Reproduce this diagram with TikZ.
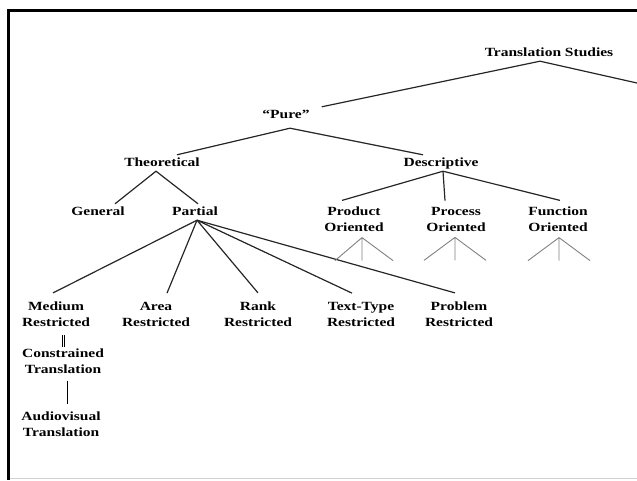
\documentclass[tikz,border=0pt]{standalone}
\usepackage{fontspec}
\setmainfont{Liberation Serif}[FakeStretch=1.24]
\tikzset{
  cat/.style={font=\bfseries\fontsize{12.5}{16}\selectfont, inner xsep=0pt, inner ysep=2.5pt, text height=9pt, text depth=2pt},
  cat2/.style={font=\bfseries\fontsize{12.5}{16}\selectfont, align=center, inner xsep=0pt, inner ysep=7pt},
  br/.style={line width=1.2pt, black!85},
  sub/.style={line width=0.9pt, black!50},
}
\begin{document}
\begin{tikzpicture}[x=1pt,y=-1pt]
\useasboundingbox (0,0) rectangle (637,480);
\draw[gray!35, line width=0.6pt] (8,478.5) -- (637,478.5);
\draw[line width=3pt] (637,10) -- (8.5,10) -- (8.5,480);

\node[cat] (ts) at (549,53) {Translation Studies};
\node[cat] (pure) at (286,115) {“Pure”};
\node[cat] (theo) at (162,163) {Theoretical};
\node[cat] (desc) at (441,163) {Descriptive};
\node[cat] (gen) at (98,212) {General};
\node[cat] (part) at (195,212) {Partial};

\node[cat2, inner ysep=6pt] (prod) at (354,219) {Product\\Oriented};
\node[cat2, inner ysep=6pt] (proc) at (456,219) {Process\\Oriented};
\node[cat2, inner ysep=6pt] (func) at (558,219) {Function\\Oriented};

\node[cat2, inner ysep=8.5pt] (med) at (56,314) {Medium\\Restricted};
\node[cat2, inner ysep=8.5pt] (area) at (156,314) {Area\\Restricted};
\node[cat2, inner ysep=8.5pt] (rank) at (258,314) {Rank\\Restricted};
\node[cat2, inner ysep=8.5pt] (ttype) at (361,314) {Text-Type\\Restricted};
\node[cat2, inner ysep=8.5pt] (prob) at (459,314) {Problem\\Restricted};

\node[cat2] (constr) at (63,361) {Constrained\\Translation};
\node[cat2] (audio) at (61,424) {Audiovisual\\Translation};

\coordinate (tsr) at (637,83);

\draw[br] ([xshift=12pt]pure.north east) -- ([xshift=-9pt]ts.south) -- (tsr);
\draw[br] ([xshift=15pt]theo.north) -- ([xshift=4pt,yshift=-5pt]pure.south) -- ([xshift=-18pt]desc.north);
\draw[br] ([xshift=17pt]gen.north) -- ([xshift=-6pt]theo.south) -- ([xshift=3pt]part.north);

\draw[br] ([xshift=2pt]part.south) -- ([xshift=-3pt]med.north);
\draw[br] ([xshift=2pt]part.south) -- ([xshift=11pt]area.north);
\draw[br] ([xshift=2pt]part.south) -- (rank.north);
\draw[br] ([xshift=2pt]part.south) -- ([xshift=-9pt]ttype.north);
\draw[br] ([xshift=2pt]part.south) -- ([xshift=-4pt]prob.north);

\draw[br] ([xshift=2pt]desc.south) -- ([xshift=-12pt]prod.north);
\draw[br] ([xshift=2pt]desc.south) -- ([xshift=-11pt]proc.north);
\draw[br] ([xshift=2pt]desc.south) -- ([xshift=2pt]func.north);

\draw[sub] ([xshift=8pt]prod.south) -- ++(-27,23) ([xshift=8pt]prod.south) -- ++(0,23) ([xshift=8pt]prod.south) -- ++(31,23);
\draw[sub] ([xshift=-1pt]proc.south) -- ++(-31,23) ([xshift=-1pt]proc.south) -- ++(0,23) ([xshift=-1pt]proc.south) -- ++(31,23);
\draw[sub] ([xshift=1pt]func.south) -- ++(-31,23) ([xshift=1pt]func.south) -- ++(0,23) ([xshift=1pt]func.south) -- ++(31,23);

\draw[line width=0.7pt, double, double distance=1.4pt] ([xshift=7.5pt]med.south) -- ([xshift=0.5pt,yshift=-6pt]constr.north);
\draw[line width=0.9pt] ([xshift=4pt]constr.south) -- ([xshift=6pt]audio.north);

\end{tikzpicture}
\end{document}
